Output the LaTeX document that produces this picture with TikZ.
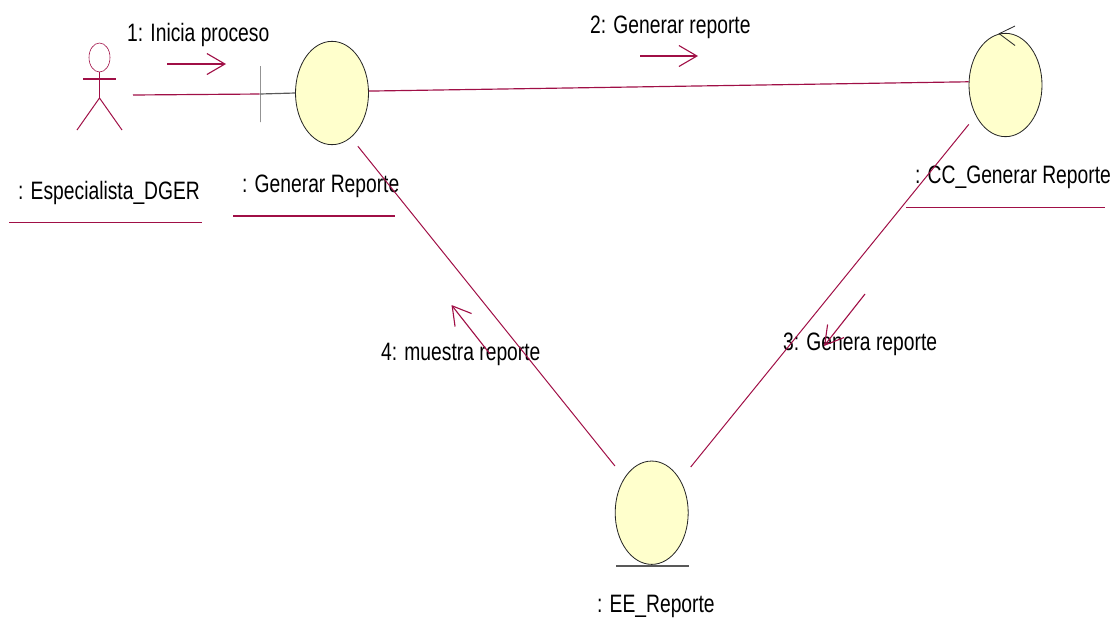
\documentclass[tikz,border=0pt]{standalone}
\usepackage{fontspec}
\setmainfont[FakeStretch=0.765]{Liberation Sans}
\usepackage{tikz}
\usetikzlibrary{shapes.geometric,arrows.meta}
\definecolor{rosered}{HTML}{A00F46}
\definecolor{roseyellow}{HTML}{FFFFCC}
\tikzstyle{lifeball}=[ellipse,fill=roseyellow,draw=black!85,line width=0.7pt,inner sep=0pt,minimum width=2.19cm,minimum height=3.1cm]
\tikzstyle{annot}=[anchor=west,inner sep=0pt,font=\fontsize{21.5}{25}\selectfont]
\tikzstyle{link}=[draw=rosered,line width=0.85pt]
\tikzstyle{under}=[draw=rosered,line width=1pt]
\tikzstyle{msg}=[draw=rosered,line width=0.95pt,-{Straight Barb[length=5.4mm,width=6.3mm]}]
\tikzstyle{stub}=[draw=black!65,line width=1pt]
\begin{document}
\begin{tikzpicture}[x=0.3mm,y=-0.3mm]
	\useasboundingbox (0,0) rectangle (1115,633);

	% labels
	\node[annot] (lbl1) at (127,35) {1: Inicia proceso};
	\node[annot] (lbl2) at (590,27) {2: Generar reporte};
	\node[annot] (lbl3) at (783,344) {3: Genera reporte};
	\node[annot] (lbl4) at (381,354) {4: muestra reporte};
	\node[annot] (nameactor) at (18,193) {: Especialista\_DGER};
	\node[annot] (namegen) at (242,186) {: Generar Reporte};
	\node[annot] (namectrl) at (915,177) {: CC\_Generar Reporte};
	\node[annot] (nameent) at (597,606) {: EE\_Reporte};

	% actor
	\node[ellipse,draw=rosered,line width=0.5pt,inner sep=0pt,minimum width=0.63cm,minimum height=0.87cm] (head) at (99.5,57.5) {};
	\coordinate (hip) at (99.5,98);
	\coordinate (armL) at (83,79);
	\coordinate (armR) at (116,79);
	\coordinate (legL) at (77,130);
	\coordinate (legR) at (122,130);
	\draw[link] (head.south) -- (hip);
	\draw[under] (armL) -- (armR);
	\draw[link] (legL) -- (hip) -- (legR);

	% boundary
	\node[lifeball] (genrep) at (332,93) {};
	\node[draw=black!65,line width=0.8pt,inner sep=0pt,minimum width=0pt,minimum height=1.68cm] (genbar) at (260,94) {};
	\draw[stub] (genbar) -- (genrep.west);

	% control
	\node[lifeball] (ctrl) at (1005.5,85) {};
	\coordinate (ctrlA) at (1015,26);
	\coordinate (ctrlB) at (1015,45.5);
	\draw[draw=black!85,line width=0.7pt] (ctrlA) -- (ctrl.97) -- (ctrlB);

	% entity
	\node[lifeball] (ent) at (651.7,512.7) {};
	\coordinate (entA) at (616,566);
	\coordinate (entB) at (689,566);
	\draw[stub] (entA) -- (entB);

	% links
	\coordinate (actorport) at (133,95);
	\draw[link,line width=1pt] (actorport) -- (genbar);
	\draw[link,line width=1pt] (genrep.3) -- (ctrl.175);
	\draw[link,shorten <=3.3mm,shorten >=4.95mm] (ctrl.226.9) -- (ent.49.7);
	\draw[link,shorten <=3.3mm,shorten >=4.5mm] (genrep.293.3) -- (ent.128.8);

	% underlines
	\coordinate (u1a) at (9,222.5);
	\coordinate (u1b) at (202,222.5);
	\coordinate (u2a) at (233,216);
	\coordinate (u2b) at (395,216);
	\coordinate (u3a) at (906,207.5);
	\coordinate (u3b) at (1105,207.5);
	\draw[under] (u1a) -- (u1b);
	\draw[under] (u2a) -- (u2b);
	\draw[under] (u3a) -- (u3b);

	% messages
	\coordinate (m1a) at (167,64);
	\coordinate (m1b) at (226,64);
	\coordinate (m2a) at (640,56);
	\coordinate (m2b) at (698,56);
	\coordinate (m3a) at (865,294);
	\coordinate (m3b) at (824,346);
	\coordinate (m4a) at (490,354);
	\coordinate (m4b) at (451.5,305);
	\draw[msg] (m1a) -- (m1b);
	\draw[msg] (m2a) -- (m2b);
	\draw[msg] (m3a) -- (m3b);
	\draw[msg] (m4a) -- (m4b);
\end{tikzpicture}
\end{document}
